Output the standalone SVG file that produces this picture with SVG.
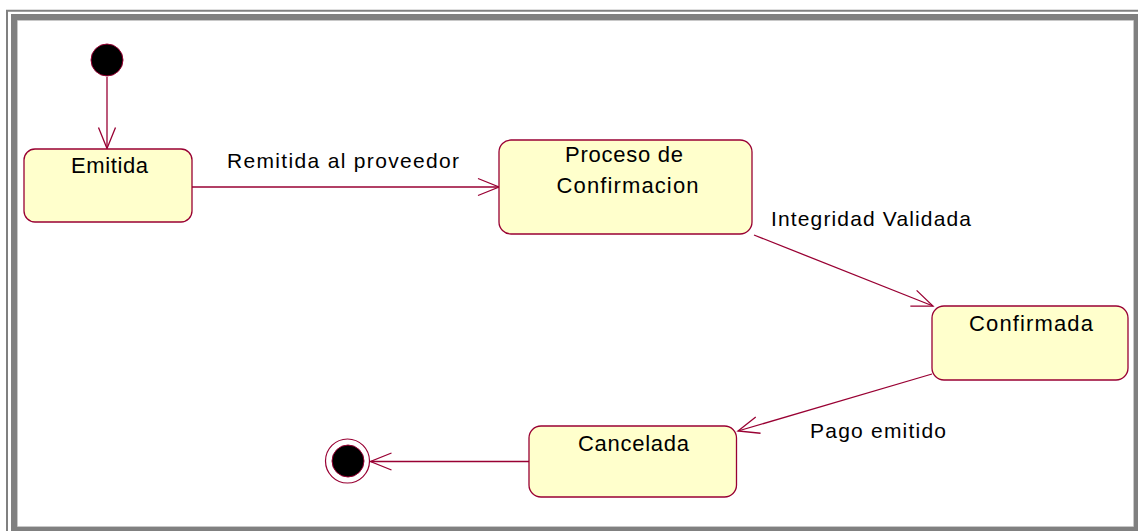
<svg xmlns="http://www.w3.org/2000/svg" width="1138" height="531" viewBox="0 0 1138 531">
<style>
.node rect{fill:#FFFFCC;stroke:#990033;stroke-width:1.3}
.nt{font-family:"Liberation Sans",Arial,sans-serif;font-size:22px;fill:#000;text-anchor:middle}
.lbl{font-family:"Liberation Sans",Arial,sans-serif;font-size:21px;fill:#000}
.conn line{stroke:#990033;stroke-width:1.3;fill:none}
</style>
<defs>
<marker id="arr" markerUnits="userSpaceOnUse" viewBox="-22 -10 24 20" refX="0" refY="0" markerWidth="24" markerHeight="20" orient="auto" overflow="visible">
<path d="M-21,-8.5 L0,0 L-21,8.5" fill="none" stroke="#990033" stroke-width="1.3"/>
</marker>
</defs>
<rect x="0" y="0" width="1138" height="531" fill="#fff"/>
<g id="frame">
<line x1="7" y1="10" x2="7" y2="531" stroke="#808080" stroke-width="2"/>
<line x1="6" y1="10.8" x2="1138" y2="10.8" stroke="#808080" stroke-width="2"/>
<path d="M11,14H1138V531H11Z M18,21V526H1133V21Z" fill="#808080" fill-rule="evenodd"/>
<path d="M17.5,20.5H1133.5V526.5H17.5Z" fill="none" stroke="#c8c8c8" stroke-width="1"/>
</g>
<g id="connectors" class="conn">
<line x1="107" y1="77" x2="107" y2="148.5" marker-end="url(#arr)"/>
<line x1="192" y1="187" x2="499" y2="187" marker-end="url(#arr)"/>
<line x1="754" y1="235" x2="933" y2="306" marker-end="url(#arr)"/>
<line x1="932" y1="374" x2="738" y2="431" marker-end="url(#arr)"/>
<line x1="529" y1="461.5" x2="370.5" y2="461.5" marker-end="url(#arr)"/>
</g>
<g id="labels">
<text class="lbl" x="227" y="168" textLength="232" lengthAdjust="spacing">Remitida al proveedor</text>
<text class="lbl" x="771" y="226" textLength="200" lengthAdjust="spacing">Integridad Validada</text>
<text class="lbl" x="810" y="438" textLength="136" lengthAdjust="spacing">Pago emitido</text>
</g>
<g id="initial">
<circle cx="107" cy="60" r="16" fill="#000" stroke="#990033" stroke-width="1"/>
</g>
<g id="emitida" class="node">
<rect x="24" y="149" width="168" height="73" rx="11"/>
<text class="nt" x="109.5" y="173" textLength="77" lengthAdjust="spacing">Emitida</text>
</g>
<g id="proceso" class="node">
<rect x="499" y="140" width="253" height="94" rx="12"/>
<text class="nt" x="624" y="162" textLength="118" lengthAdjust="spacing">Proceso de</text>
<text class="nt" x="627.5" y="193" textLength="142" lengthAdjust="spacing">Confirmacion</text>
</g>
<g id="confirmada" class="node">
<rect x="932" y="306" width="196" height="74" rx="12"/>
<text class="nt" x="1031" y="331" textLength="124" lengthAdjust="spacing">Confirmada</text>
</g>
<g id="cancelada" class="node">
<rect x="529" y="426" width="207.5" height="71" rx="12"/>
<text class="nt" x="633.5" y="451" textLength="111" lengthAdjust="spacing">Cancelada</text>
</g>
<g id="final">
<circle cx="347.5" cy="461" r="22" fill="#fff" stroke="#990033" stroke-width="1.2"/>
<circle cx="348" cy="461" r="16" fill="#000" stroke="#990033" stroke-width="1"/>
</g>
</svg>
